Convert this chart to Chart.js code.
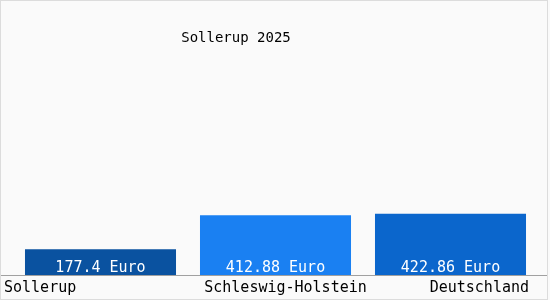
<!DOCTYPE html>
<html>
<head>
<meta charset="utf-8">
<script src="https://cdn.jsdelivr.net/npm/chart.js@4"></script>
<style>
  html, body { margin: 0; padding: 0; background: #fff; }
  #wrap { width: 550px; height: 300px; }
</style>
</head>
<body>
<div id="wrap"><canvas id="chart" width="550" height="300"></canvas></div>
<script>
// data
const categories = ['Sollerup', 'Schleswig-Holstein', 'Deutschland'];
const values = [177.4, 412.88, 422.86];
const barColors = ['#0a52a0', '#1a80f2', '#0b66cc'];
const unit = 'Euro';
const titleText = 'Sollerup 2025';

const TITLE_FONT = '14px "DejaVu Sans Mono", monospace';
const FONT = '15px "DejaVu Sans Mono", monospace';

// background, frame, axis line, title, value and category labels
const decorations = {
    id: 'decorations',
    beforeDraw(chart) {
        const ctx = chart.ctx;
        ctx.save();
        ctx.fillStyle = '#fafafa';
        ctx.fillRect(0, 0, chart.width, chart.height);
        ctx.strokeStyle = '#dcdcdc';
        ctx.lineWidth = 1;
        ctx.strokeRect(0.5, 0.5, chart.width - 3, chart.height - 1);
        ctx.restore();
    },
    afterDraw(chart) {
        const ctx = chart.ctx;
        const area = chart.chartArea;
        const bars = chart.getDatasetMeta(0).data;
        ctx.save();
        // axis line
        ctx.strokeStyle = '#a0a0a0';
        ctx.beginPath();
        ctx.moveTo(1, area.bottom + 0.5);
        ctx.lineTo(chart.width - 3, area.bottom + 0.5);
        ctx.stroke();

        ctx.textBaseline = 'middle';
        // title
        ctx.font = TITLE_FONT;
        ctx.fillStyle = '#000';
        ctx.textAlign = 'center';
        ctx.fillText(titleText, 236, 38);

        // values inside bars
        ctx.font = FONT;
        ctx.fillStyle = '#fff';
        bars.forEach((bar, i) => {
            ctx.textAlign = 'center';
            ctx.fillText(values[i] + ' ' + unit, bar.x, area.bottom - 7);
        });

        // category labels
        ctx.fillStyle = '#000';
        bars.forEach((bar, i) => {
            let x = bar.x;
            if (i === 0) { ctx.textAlign = 'left'; x = 4; }
            else if (i === bars.length - 1) { ctx.textAlign = 'right'; x = chart.width - 21; }
            else { ctx.textAlign = 'center'; x = bar.x + 10; }
            ctx.fillText(categories[i], x, area.bottom + 13);
        });
        ctx.restore();
    }
};

new Chart(document.getElementById('chart'), {
    type: 'bar',
    data: {
        labels: categories,
        datasets: [{
            data: values,
            backgroundColor: barColors,
            borderWidth: 0,
            barPercentage: 0.863,
            categoryPercentage: 1
        }]
    },
    options: {
        responsive: false,
        animation: false,
        layout: { padding: { top: 0, left: 13, right: 12, bottom: 25 } },
        plugins: {
            legend: { display: false },
            title: { display: false },
            tooltip: { enabled: false }
        },
        scales: {
            x: {
                display: false,
                offset: true
            },
            y: {
                display: false,
                min: 0,
                max: 1900
            }
        }
    },
    plugins: [decorations]
});
</script>
</body>
</html>
